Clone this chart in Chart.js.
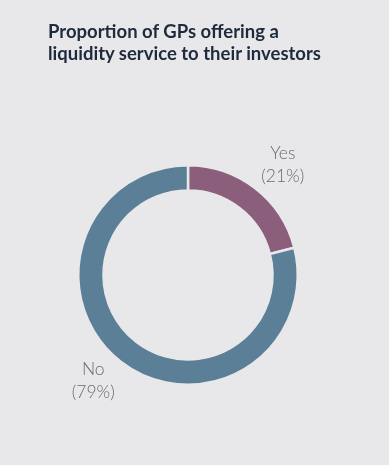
<!DOCTYPE html>
<html>
<head>
<meta charset="utf-8">
<script src="https://cdn.jsdelivr.net/npm/chart.js@4/dist/chart.umd.min.js"></script>
<style>
  html, body { margin: 0; padding: 0; background: #e8e8ea; }
  #wrap { position: relative; width: 389px; height: 465px; }
  #title { position: absolute; left: 48px; top: 20px; font-family: Lato, "DejaVu Sans", sans-serif; font-weight: bold; font-size: 18.5px; line-height: 22px; color: #1f2a3c; }
  #chart { position: absolute; left: 0; top: 0; }
</style>
</head>
<body>
<div id="wrap">
  <canvas id="chart" width="389" height="465"></canvas>
  <div id="title">Proportion of GPs offering a<br>liquidity service to their investors</div>
</div>
<script>
// ข้อมูล
const labels = ['Yes', 'No'];
const values = [21, 79];
const colors = ['#8b5e7b', '#5b7f97'];

// วาด label นอกวง ตามมุมกลางของแต่ละ slice
const outerLabels = {
  id: 'outerLabels',
  afterDatasetsDraw(chart) {
    const ctx = chart.ctx;
    const meta = chart.getDatasetMeta(0);
    ctx.save();
    ctx.font = '300 17.5px Lato, "DejaVu Sans", sans-serif';
    ctx.fillStyle = '#6a6a6c';
    ctx.textAlign = 'center';
    ctx.textBaseline = 'middle';
    meta.data.forEach((arc, i) => {
      const mid = (arc.startAngle + arc.endAngle) / 2 + 0.06;
      const r = arc.outerRadius + 34;
      const x = arc.x + Math.cos(mid) * r;
      const y = arc.y + Math.sin(mid) * r;
      ctx.fillText(labels[i], x, y - 14);
      ctx.fillText('(' + values[i] + '%)', x, y + 9);
    });
    ctx.restore();
  }
};

new Chart(document.getElementById('chart'), {
  type: 'doughnut',
  data: { labels, datasets: [{ data: values, backgroundColor: colors, borderColor: '#e8e8ea', borderWidth: 2.5 }] },
  options: {
    responsive: false,
    animation: false,
    cutout: '77%',
    layout: { padding: { left: 77, right: 90, top: 164, bottom: 79 } },
    plugins: { legend: { display: false }, tooltip: { enabled: false } }
  },
  plugins: [outerLabels]
});
</script>
</body>
</html>
